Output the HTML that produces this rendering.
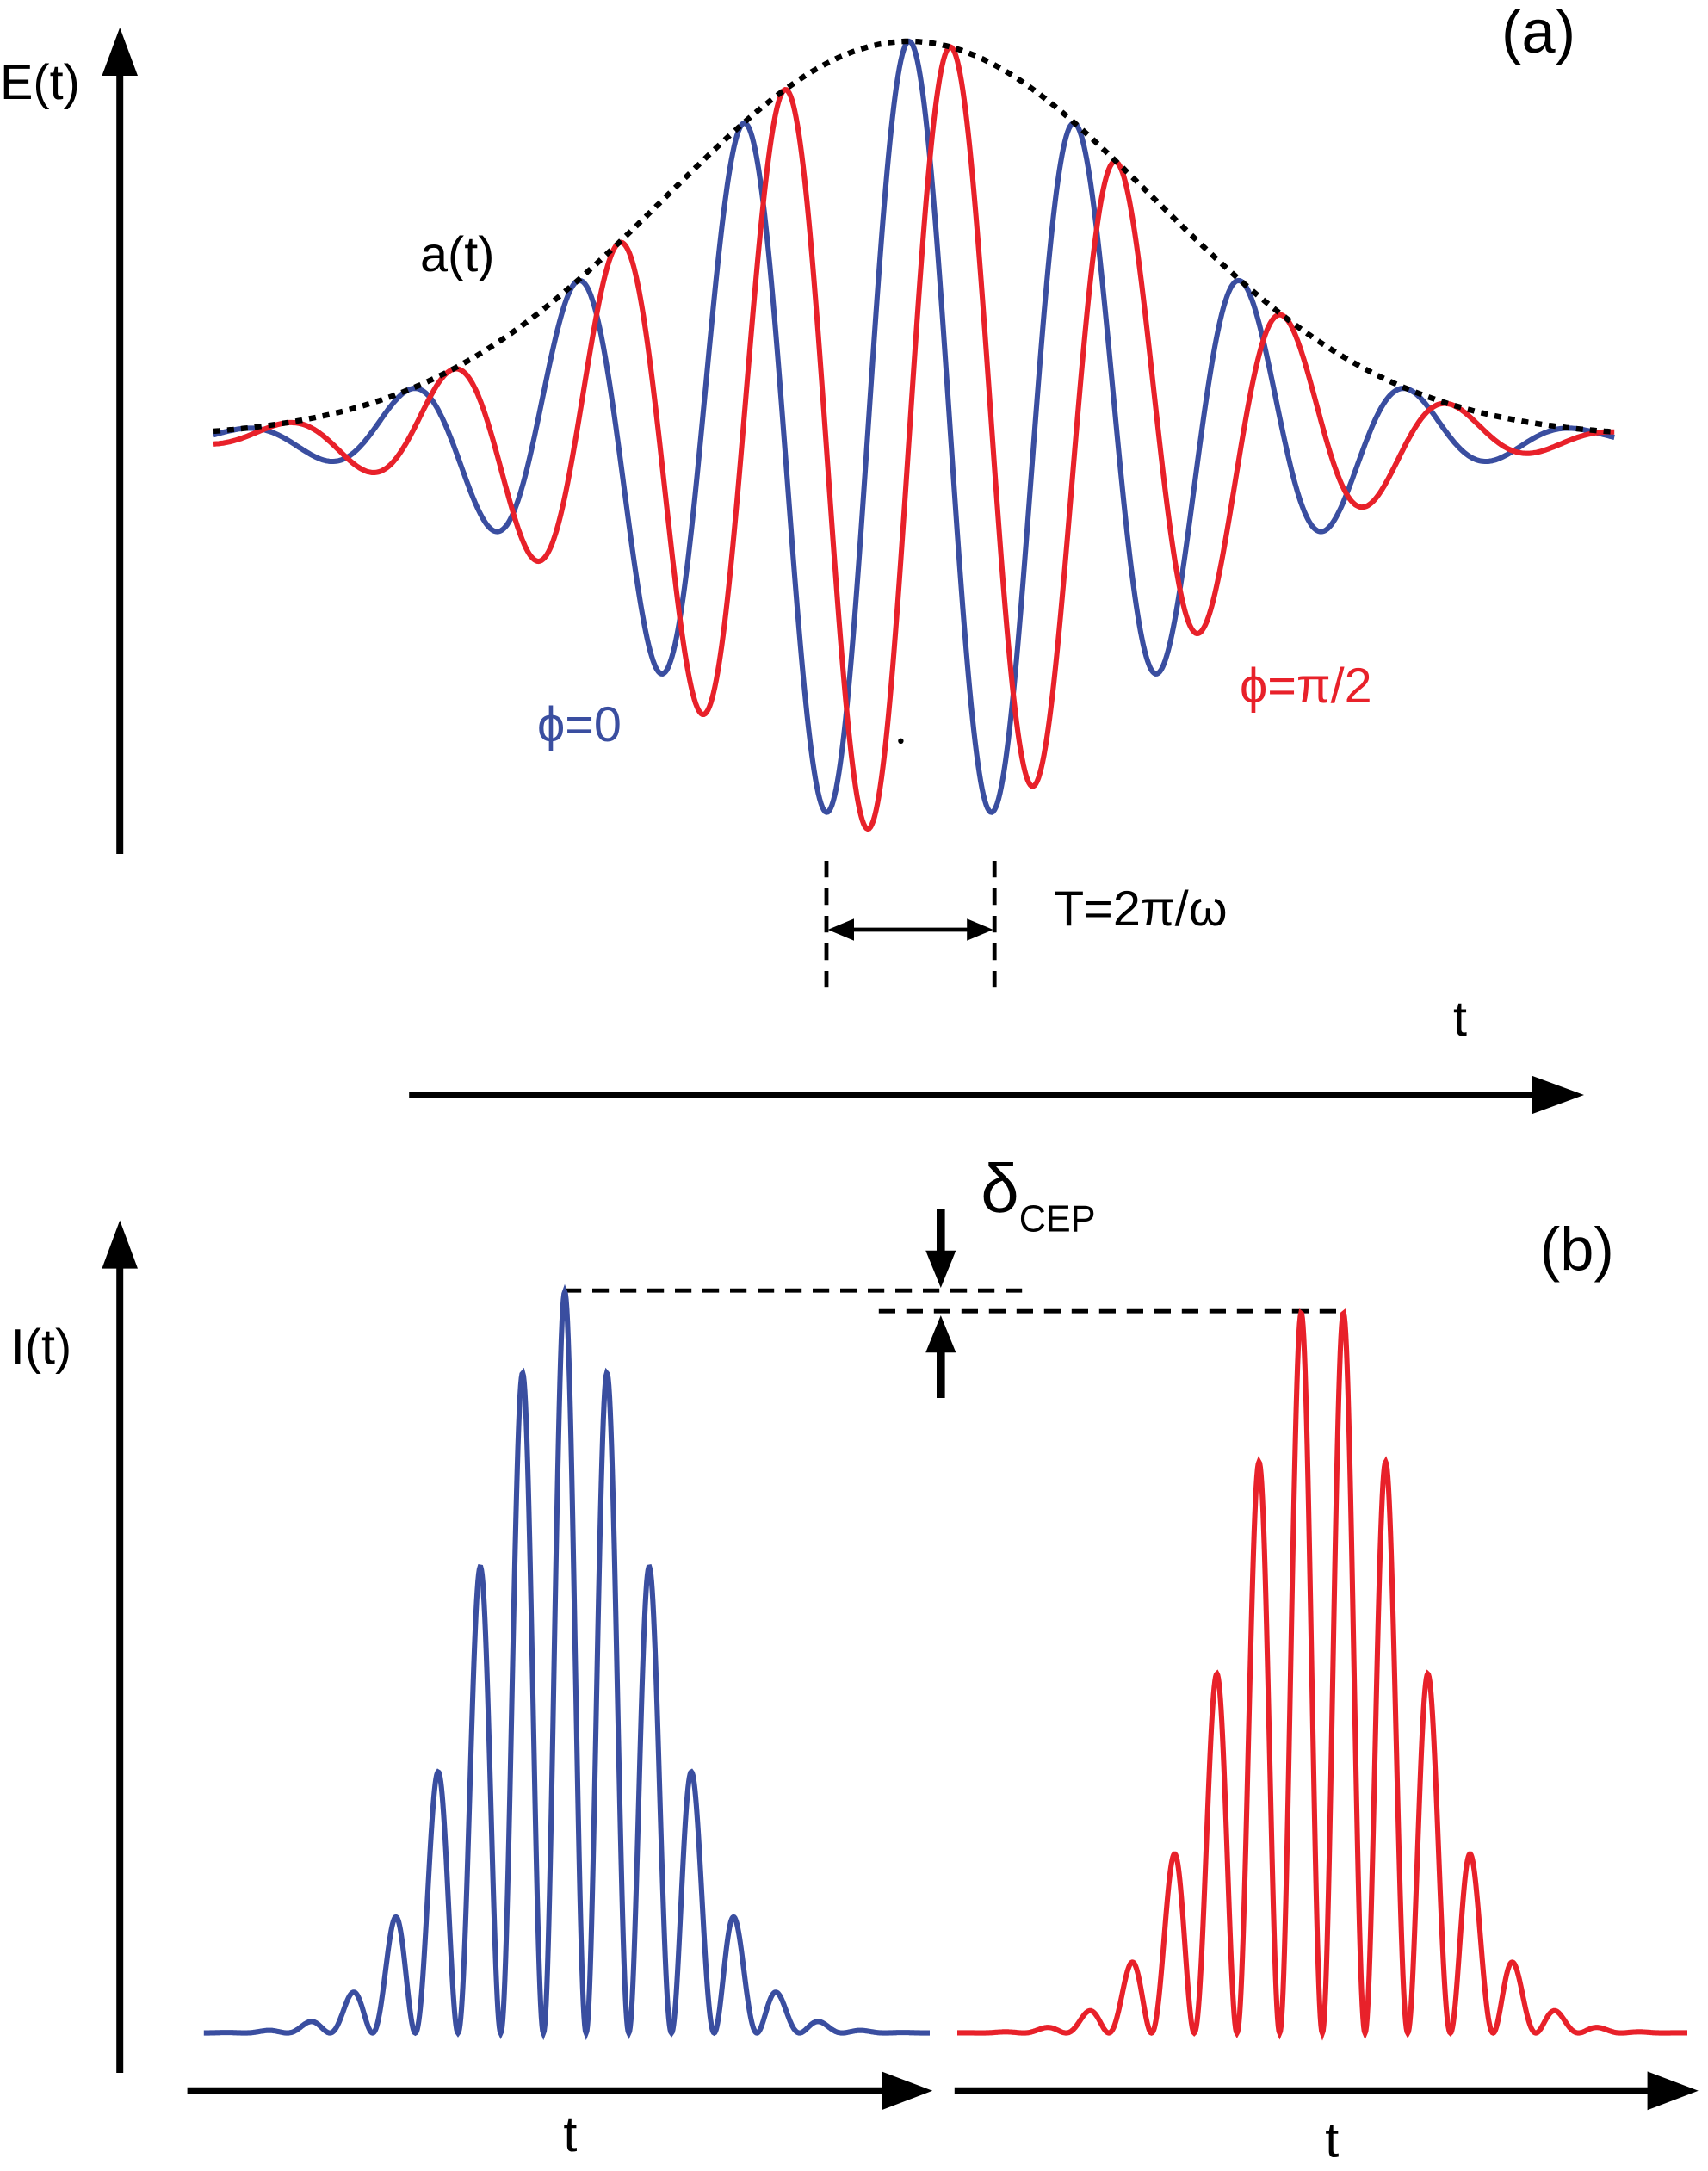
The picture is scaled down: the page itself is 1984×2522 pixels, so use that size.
<!DOCTYPE html>
<html><head><meta charset="utf-8"><style>
html,body{margin:0;padding:0;background:#fff;}
svg{display:block;font-family:"Liberation Sans",sans-serif;}
</style></head><body>
<svg id="fig" width="1984" height="2522" viewBox="0 0 1240 1576.25" xmlns="http://www.w3.org/2000/svg">
<g id="axes">
<line x1="87" y1="620" x2="87" y2="50" stroke="#000" stroke-width="5"/>
<path d="M87,20 L74,55 L100,55 Z" fill="#000"/>
<line x1="297" y1="795" x2="1120" y2="795" stroke="#000" stroke-width="5"/>
<path d="M1150,795 L1112,781 L1112,809 Z" fill="#000"/>
<line x1="87" y1="1505" x2="87" y2="915" stroke="#000" stroke-width="5"/>
<path d="M87,886 L74,921 L100,921 Z" fill="#000"/>
<line x1="136" y1="1518" x2="645" y2="1518" stroke="#000" stroke-width="5"/>
<path d="M677,1518 L640,1504 L640,1532 Z" fill="#000"/>
<line x1="693" y1="1518" x2="1200" y2="1518" stroke="#000" stroke-width="5"/>
<path d="M1233,1518 L1196,1504 L1196,1532 Z" fill="#000"/>
</g>
<g id="annot">
<line x1="600" y1="625" x2="600" y2="722" stroke="#000" stroke-width="3" stroke-dasharray="12,8"/>
<line x1="722" y1="625" x2="722" y2="722" stroke="#000" stroke-width="3" stroke-dasharray="12,8"/>
<line x1="615" y1="675" x2="707" y2="675" stroke="#000" stroke-width="3"/>
<path d="M601,675 L620,667 L620,683 Z" fill="#000"/>
<path d="M721,675 L702,667 L702,683 Z" fill="#000"/>
<circle cx="654" cy="538" r="2" fill="#000"/>
<line x1="410" y1="937" x2="745" y2="937" stroke="#000" stroke-width="3" stroke-dasharray="12,8"/>
<line x1="638" y1="952" x2="975" y2="952" stroke="#000" stroke-width="3" stroke-dasharray="12,8"/>
<line x1="683" y1="878" x2="683" y2="915" stroke="#000" stroke-width="6"/>
<path d="M683,935 L672,908 L694,908 Z" fill="#000"/>
<line x1="683" y1="1015" x2="683" y2="975" stroke="#000" stroke-width="6"/>
<path d="M683,955 L672,982 L694,982 Z" fill="#000"/>
</g>
<g id="labels" font-size="36">
<text x="0" y="72">E(t)</text>
<text x="1090" y="38" font-size="44">(a)</text>
<text x="305" y="197">a(t)</text>
<text x="390" y="538" fill="#3a4ea0">ϕ=0</text>
<text x="900" y="510" fill="#e8212a">ϕ=π/2</text>
<text x="765" y="672">T=2π/ω</text>
<text x="1055" y="752">t</text>
<text x="8" y="990">I(t)</text>
<text x="1118" y="922" font-size="44">(b)</text>
<text x="712" y="880" font-size="50">δ<tspan font-size="27" dy="14">CEP</tspan></text>
<text x="409" y="1562">t</text>
<text x="962" y="1566">t</text>
</g>
<g id="series"></g>
</svg>
<script>
// Pulse parameters (display units)
const seriesNames = ['phi-0', 'phi-pi-2'];
const seriesPhases = [0, Math.PI / 2];
const seriesColors = ['#3a4ea0', '#e8212a'];
const fieldPeak = [288];
const fieldSigma = [177];
const fieldPeriod = [121];
const intensityPeak = [538];
const intensitySigma = [64];
const intensityPeriod = [62];
const intensityCenters = [410, 960];
const intensityRanges = [[148, 675], [695, 1225]];

const aX0 = 660, aY0 = 318, aXmin = 155, aXmax = 1172;
function ax(t) { return aX0 + t; }
function ay(v) { return aY0 - v; }
const bY0 = 1476;
function by(v) { return bY0 - v; }

const g = document.getElementById('series');
const NS = 'http://www.w3.org/2000/svg';
function env(t) { return fieldPeak[0] * Math.exp(-t * t / (2 * fieldSigma[0] * fieldSigma[0])); }

seriesPhases.forEach((ph, i) => {
  let d = '';
  for (let x = aXmin; x <= aXmax; x += 1) {
    const t = x - aX0;
    const v = env(t) * Math.cos(2 * Math.PI * t / fieldPeriod[0] - ph);
    d += (d ? 'L' : 'M') + ax(t).toFixed(1) + ',' + ay(v).toFixed(1);
  }
  const p = document.createElementNS(NS, 'path');
  p.setAttribute('d', d);
  p.setAttribute('fill', 'none');
  p.setAttribute('stroke', seriesColors[i]);
  p.setAttribute('stroke-width', '3.8');
  
  
  g.appendChild(p);
});
{
  let d = '';
  for (let x = aXmin; x <= aXmax; x += 2) {
    const t = x - aX0;
    d += (d ? 'L' : 'M') + ax(t).toFixed(1) + ',' + ay(env(t)).toFixed(1);
  }
  const p = document.createElementNS(NS, 'path');
  p.setAttribute('d', d);
  p.setAttribute('fill', 'none');
  p.setAttribute('stroke', '#000');
  p.setAttribute('stroke-width', '4');
  p.setAttribute('stroke-dasharray', '5,5');
  
  
  g.appendChild(p);
}
seriesPhases.forEach((ph, i) => {
  let d = '';
  const c = intensityCenters[i];
  for (let x = intensityRanges[i][0]; x <= intensityRanges[i][1]; x += 0.5) {
    const t = x - c;
    const e = Math.exp(-t * t / (2 * intensitySigma[0] * intensitySigma[0]));
    const cs = Math.cos(2 * Math.PI * t / intensityPeriod[0] - ph);
    const v = intensityPeak[0] * e * cs * cs;
    d += (d ? 'L' : 'M') + x.toFixed(1) + ',' + by(v).toFixed(1);
  }
  const p = document.createElementNS(NS, 'path');
  p.setAttribute('d', d);
  p.setAttribute('fill', 'none');
  p.setAttribute('stroke', seriesColors[i]);
  p.setAttribute('stroke-width', '3.8');
  
  
  g.appendChild(p);
});
</script>
</body></html>
